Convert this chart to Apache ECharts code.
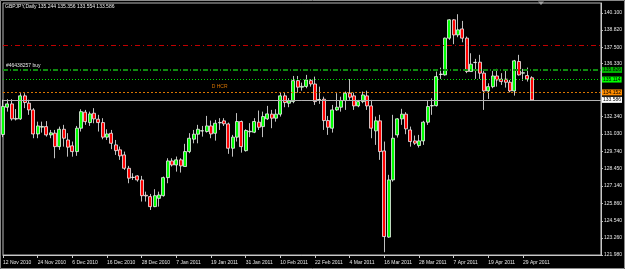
<!DOCTYPE html>
<html><head><meta charset="utf-8">
<script src="https://cdn.jsdelivr.net/npm/echarts@6/dist/echarts.min.js"></script>
<style>html,body{margin:0;padding:0;background:#000;overflow:hidden}#c{width:625px;height:269px}</style>
</head><body><div id="c"></div>
<script>
// ---- data ----
const headerText = 'GBPJPY,Daily 135.244 135.356 133.554 133.586';
const orderLabel = '#46438257 buy';
const hcrLabel = 'D HCR';
const firstDate = [2010, 10, 12]; // 12 Nov 2010 (month 0-based)
const totalSlots = 139;            // trading days incl. empty right shift
const xTickLabels = ['12 Nov 2010','24 Nov 2010','6 Dec 2010','16 Dec 2010','28 Dec 2010','7 Jan 2011','19 Jan 2011','31 Jan 2011','10 Feb 2011','22 Feb 2011','4 Mar 2011','16 Mar 2011','28 Mar 2011','7 Apr 2011','19 Apr 2011','29 Apr 2011'];
const yTickValues = [140.100,138.820,137.500,136.330,132.340,131.030,129.740,128.450,127.140,125.860,124.540,123.260,121.980];
const levelRed = 137.65;
const levelOrder = 135.826;
const levelLime = 135.114;
const levelOrange = 134.152;
const levelBid = 133.586;

const openP = [131.00,133.04,133.29,132.15,132.17,133.89,133.34,132.84,131.04,131.55,
131.59,130.97,131.10,130.09,131.39,130.59,130.15,129.72,131.47,132.67,
131.89,132.59,132.14,131.89,130.80,131.09,130.22,129.85,129.47,128.47,
127.78,127.90,127.60,126.45,126.35,125.60,126.22,126.42,127.77,129.02,
128.72,129.10,128.60,129.72,130.65,131.02,131.26,131.22,131.64,131.09,
131.87,132.02,131.79,129.97,130.80,131.97,129.79,131.20,131.17,131.92,
131.59,132.17,132.52,132.22,132.52,133.89,133.34,133.46,135.03,134.54,
134.60,135.03,134.78,133.58,133.64,132.04,131.47,132.84,133.04,133.54,
134.09,133.89,133.14,133.46,133.89,133.14,131.27,132.02,129.77,123.32,
127.60,130.97,132.17,132.52,131.34,130.52,130.17,130.52,131.92,133.14,
133.16,135.49,135.46,138.21,139.58,138.45,138.90,138.21,135.71,136.38,
136.41,135.59,134.26,134.58,135.38,135.14,135.14,134.91,134.26,136.46,
135.59,135.41,135.244];
const closeP = [133.10,133.29,132.17,132.20,133.89,133.39,132.84,131.04,131.64,131.60,
130.97,131.12,130.09,131.39,130.72,130.05,129.72,131.47,132.71,131.96,
132.54,132.17,131.89,130.80,131.04,130.34,129.79,129.40,128.47,127.73,
127.80,127.60,126.42,126.40,125.60,126.42,126.47,127.77,129.02,128.72,
129.10,128.65,129.72,130.72,131.02,131.39,131.28,131.64,131.04,131.84,
131.90,131.80,129.97,130.80,131.97,130.09,131.30,131.24,131.97,131.54,
132.34,132.54,132.22,132.52,133.89,133.39,133.52,135.03,134.54,134.60,
135.08,134.78,133.46,133.62,132.04,131.54,132.84,133.04,133.54,134.09,
133.79,133.14,133.46,133.96,133.14,131.47,132.02,129.72,123.36,127.60,
130.72,132.17,132.52,131.42,130.47,130.35,130.52,131.92,133.09,133.16,
135.33,135.52,138.21,139.58,138.45,138.83,138.21,135.71,136.26,136.40,
135.59,134.26,134.58,135.38,135.08,134.96,134.91,134.26,136.51,135.46,
135.62,135.16,133.586];
const lowP = [130.80,132.71,132.04,132.05,132.09,132.97,132.47,130.72,130.72,131.14,
130.84,130.72,129.22,129.85,130.09,129.34,129.34,129.40,131.22,131.72,
131.64,131.84,131.22,130.64,130.59,129.90,129.47,129.10,128.35,127.35,
127.60,127.47,125.98,125.98,125.35,125.56,125.60,126.35,127.35,128.60,
128.22,128.15,128.60,129.60,130.34,130.34,130.84,131.14,130.72,130.54,
131.34,131.64,129.55,129.34,130.47,129.64,129.72,130.80,131.10,131.34,
130.80,132.09,131.47,131.96,132.34,133.04,133.04,133.34,134.13,134.28,
134.46,134.58,133.21,133.29,131.34,130.97,131.14,132.77,132.71,132.84,
133.59,132.84,133.04,133.34,132.84,130.72,130.22,129.10,122.19,123.27,
127.47,130.77,131.72,131.02,130.09,130.22,130.02,130.22,131.72,132.47,
133.09,135.16,135.41,138.08,137.76,138.28,137.90,135.59,135.71,135.16,
135.16,132.84,133.66,134.46,134.58,134.71,134.51,134.16,133.91,135.41,
135.01,134.96,133.554];
const highP = [133.60,133.64,133.64,132.90,134.09,134.09,133.60,132.97,131.96,131.96,
132.00,131.34,131.34,131.59,131.72,131.10,130.47,131.64,132.89,132.84,
132.71,132.97,132.47,132.22,131.39,131.34,130.59,130.10,129.72,128.65,
128.10,127.95,127.90,126.72,126.55,126.90,126.72,127.85,129.22,129.22,
129.35,129.22,130.30,131.10,131.34,131.72,131.64,132.39,132.04,132.09,
132.22,132.22,131.89,130.97,132.60,132.04,131.39,131.85,132.22,132.79,
132.71,133.14,132.84,132.89,134.13,134.13,133.72,135.38,135.38,134.88,
135.46,135.14,135.33,134.58,133.83,132.39,133.21,134.09,133.83,134.21,
135.14,134.13,133.59,134.21,134.28,133.59,132.34,132.47,130.47,127.98,
132.47,132.22,132.92,132.67,131.59,130.92,130.97,132.02,133.51,133.71,
135.71,136.00,138.25,139.63,139.63,140.00,139.50,138.33,137.08,136.66,
136.96,135.83,134.83,135.76,135.91,135.59,135.83,135.08,136.58,136.96,
135.91,136.01,135.356];

// ---- categories: consecutive weekdays ----
const MONTHS = ['Jan','Feb','Mar','Apr','May','Jun','Jul','Aug','Sep','Oct','Nov','Dec'];
const cats = [];
{
  const d = new Date(Date.UTC(firstDate[0], firstDate[1], firstDate[2]));
  while (cats.length < totalSlots) {
    const wd = d.getUTCDay();
    if (wd !== 0 && wd !== 6) cats.push(d.getUTCDate() + ' ' + MONTHS[d.getUTCMonth()] + ' ' + d.getUTCFullYear());
    d.setUTCDate(d.getUTCDate() + 1);
  }
}
const candles = openP.map((o, i) => [o, closeP[i], lowP[i], highP[i]]);

const FONT = "'Liberation Sans', Arial, sans-serif";
const chart = echarts.init(document.getElementById('c'), null, {renderer: 'canvas'});
const boxLabel = (val, bg) => ({
  show: true, position: 'end', distance: 1, formatter: val.toFixed(3),
  backgroundColor: bg, color: '#000', fontSize: 5, fontFamily: FONT,
  padding: [1, 1, 0, 1], lineHeight: 5
});
chart.setOption({
  backgroundColor: '#000',
  animation: false,
  title: {text: headerText, left: 5, top: 4, padding: 0,
    textStyle: {color: '#ececec', fontSize: 5, fontWeight: 'normal', fontFamily: FONT}},
  grid: {left: 3, right: 22, top: 3, bottom: 14, show: true, borderColor: '#b8b8b8', borderWidth: 1, backgroundColor: '#000'},
  xAxis: {
    type: 'category', data: cats, boundaryGap: false,
    axisLine: {lineStyle: {color: '#c8c8c8', width: 1}},
    axisTick: {show: true, length: 3, interval: (i, v) => xTickLabels.includes(v), lineStyle: {color: '#c8c8c8'}},
    axisLabel: {interval: (i, v) => xTickLabels.includes(v), align: 'left', margin: 5, fontSize: 5,
      color: '#e6e6e6', fontFamily: FONT},
    splitLine: {show: false}
  },
  yAxis: {
    type: 'value', position: 'right', min: 121.98, max: 140.84,
    axisLine: {show: true, lineStyle: {color: '#c8c8c8'}},
    axisTick: {show: true, length: 2, customValues: yTickValues, lineStyle: {color: '#c8c8c8'}},
    axisLabel: {customValues: yTickValues, formatter: v => v.toFixed(3), fontSize: 5, color: '#e6e6e6',
      margin: 3, fontFamily: FONT},
    splitLine: {show: false}
  },
  graphic: [
    {type: 'rect', shape: {x: 0.5, y: 0.5, width: 624, height: 268}, style: {fill: 'none', stroke: '#8a8a8a', lineWidth: 1}, silent: true, z: 100},
    {type: 'polygon', shape: {points: [[538, 1.5], [544, 1.5], [541, 5]]}, style: {fill: '#a0a0a0'}, silent: true, z: 100}
  ],
  series: [{
    type: 'candlestick', data: candles, barWidth: 3.6, clip: true,
    itemStyle: {color: '#00ff00', color0: '#ff0000', borderColor: '#f0f0f0', borderColor0: '#f0f0f0',
      borderColorDoji: '#ffffff', borderWidth: 0.8},
    markLine: {
      silent: true, symbol: ['none', 'none'], animation: false,
      data: [
        {yAxis: levelRed, lineStyle: {color: '#c00000', type: [5, 3, 1, 3], width: 1}, label: {show: false}},
        {yAxis: levelOrder, lineStyle: {color: '#0f8a0f', type: [5, 2, 1, 2], width: 2}, label: boxLabel(levelOrder, '#00b400')},
        {yAxis: levelLime, lineStyle: {color: '#00e000', type: [1, 2], width: 1}, label: boxLabel(levelLime, '#00ff00')},
        {yAxis: levelOrange, lineStyle: {color: '#d87400', type: [2, 2], width: 1}, label: boxLabel(levelOrange, '#ff8c00')},
        {yAxis: levelBid, lineStyle: {color: '#b4b4b4', type: 'solid', width: 1}, label: boxLabel(levelBid, '#ffffff')}
      ]
    },
    markPoint: {
      silent: true, symbol: 'circle', symbolSize: 0, animation: false,
      data: [
        {coord: [cats[50], levelOrange], label: {show: true, formatter: hcrLabel, position: 'top', distance: 3,
          color: '#d87400', fontSize: 5, fontFamily: FONT}},
        {coord: [cats[0], levelOrder], label: {show: true, formatter: orderLabel, position: [3, -7],
          color: '#e6e6e6', fontSize: 5, fontFamily: FONT}}
      ]
    }
  }]
});
</script></body></html>
